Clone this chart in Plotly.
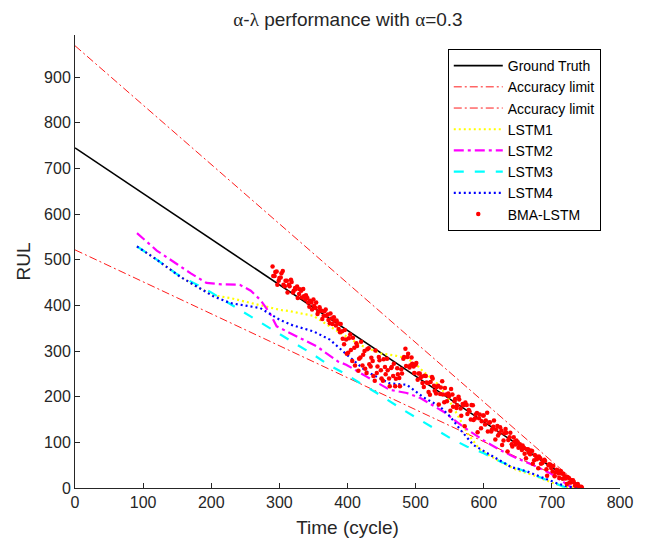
import plotly.graph_objects as go

# ---------------- data ----------------
time_gt = [0, 745]
rul_gt = [745, 0]
rul_upper = [968.5, 0]   # (1+alpha)*RUL
rul_lower = [521.5, 0]   # (1-alpha)*RUL

lstm1_t = [91, 120, 154, 180, 203, 228, 250, 277, 301, 316, 350, 374, 399, 420, 448, 470, 487, 500, 511, 524, 536, 548, 560, 576, 595, 620, 649, 673, 698, 717, 745]
lstm1_v = [529, 500, 463, 440, 422, 416, 408, 398, 390, 387, 377, 354, 332, 312, 295, 290, 284, 272, 255, 240, 222, 195, 164, 120, 83, 61, 39, 28, 13, 3, 0]

lstm2_t = [91, 120, 150, 170, 193, 215, 242, 258, 272, 286, 296, 326, 355, 386, 398, 428, 462, 487, 507, 541, 570, 600, 624, 649, 673, 698, 712, 727, 745]
lstm2_v = [558, 520, 490, 470, 449, 446, 445, 432, 412, 383, 354, 332, 310, 277, 270, 244, 215, 208, 197, 167, 134, 104, 83, 65, 50, 32, 18, 3, 0]

lstm3_t = [91, 120, 150, 175, 198, 220, 242, 267, 286, 311, 330, 350, 374, 399, 418, 443, 482, 507, 531, 551, 575, 600, 624, 649, 673, 698, 717, 745]
lstm3_v = [529, 500, 468, 448, 430, 410, 390, 368, 350, 328, 310, 292, 268, 248, 230, 208, 171, 149, 127, 109, 91, 76, 58, 43, 29, 14, 3, 0]

lstm4_t = [91, 120, 154, 180, 203, 228, 250, 272, 301, 320, 350, 374, 399, 428, 462, 487, 511, 536, 551, 566, 585, 615, 640, 664, 689, 708, 723, 745]
lstm4_v = [529, 500, 463, 440, 420, 405, 400, 394, 368, 356, 343, 325, 292, 255, 229, 226, 199, 178, 156, 127, 94, 68, 46, 36, 21, 10, 3, 0]

bma_t_a = list(range(290, 746, 3))
bma_v_a = [485, 464, 474, 454, 461, 475, 442, 454, 445, 456, 428, 438, 441, 425, 432, 436, 413,
           416, 397, 406, 413, 394, 381, 396, 388, 377, 391, 380, 361, 371, 374, 356, 361, 341,
           343, 315, 325, 296, 336, 278, 307, 317, 257, 286, 268, 300, 252, 306, 266, 278, 235, 252, 287, 258,
           235, 265, 283, 240, 263, 245, 223, 262, 241, 260,
           283, 305, 287, 264, 286, 266, 270, 237, 251,
           244, 221, 245, 230, 204, 243, 224, 207, 224, 206, 234, 188, 205, 207, 169, 205, 190, 175, 200, 174,
           184, 135, 182, 171, 150, 181, 152, 164, 153, 131, 159, 139, 165, 143, 124, 134, 106, 136, 120, 126,
           104, 129, 80, 111, 96, 111, 95, 100,
           96, 83, 88, 65, 85, 74, 81, 61, 69, 43, 65, 55, 62, 41, 50, 51, 36, 26, 40, 32,
           37, 20, 26, 9, 22, 12, 17, 5, 8, 3, 3]

bma_t_b = list(range(291, 746, 3))
bma_v_b = [464, 473, 445, 460, 470, 445, 454, 428, 442, 451, 432, 435, 416, 435, 417, 420, 422,
           406, 410, 391, 399, 406, 386, 389, 370, 387, 377, 368, 382, 359, 366, 367, 348, 359,
           327, 346, 294, 328, 302, 329, 268, 311, 283, 320, 292, 261, 304, 271, 285, 245, 301, 266, 280, 240,
           282, 249, 258, 223, 265, 272, 239, 249, 223, 251,
           287, 267, 294, 268, 272, 252, 274, 251, 241,
           230, 246, 231, 210, 232, 240, 213, 221, 183, 220, 205, 219, 190, 201, 217, 178, 195, 181, 194, 158,
           181, 187, 162, 168, 182, 149, 161, 122, 161, 146, 159, 148, 124, 144, 128, 148, 128, 115, 133, 94,
           120, 121, 105, 121, 91, 102, 104, 88,
           89, 93, 75, 85, 78, 82, 53, 72, 63, 69, 53, 59, 59, 27, 52, 44, 48, 34, 39, 22,
           32, 31, 21, 24, 12, 17, 13, 7, 9, 3, 1]

bma_t = bma_t_a + bma_t_b
bma_v = bma_v_a + bma_v_b

x_ticks = [0, 100, 200, 300, 400, 500, 600, 700, 800]
y_ticks = [0, 100, 200, 300, 400, 500, 600, 700, 800, 900]

# ---------------- figure ----------------
FONT = "Liberation Sans, Arial, Helvetica, sans-serif"
SERIF = "Liberation Serif, Times New Roman, serif"
TXT = "#262626"

fig = go.Figure()
fig.add_trace(go.Scatter(x=time_gt, y=rul_gt, mode="lines", name="Ground Truth",
                         line=dict(color="black", width=1.6)))
fig.add_trace(go.Scatter(x=time_gt, y=rul_upper, mode="lines", name="Accuracy limit",
                         line=dict(color="red", width=0.9, dash="8px,3px,2px,3px")))
fig.add_trace(go.Scatter(x=time_gt, y=rul_lower, mode="lines", name="Accuracy limit",
                         line=dict(color="red", width=0.9, dash="8px,3px,2px,3px")))
fig.add_trace(go.Scatter(x=lstm1_t, y=lstm1_v, mode="lines", name="LSTM1",
                         line=dict(color="#FFFF00", width=2.2, dash="2px,3px")))
fig.add_trace(go.Scatter(x=lstm2_t, y=lstm2_v, mode="lines", name="LSTM2",
                         line=dict(color="#FF00FF", width=2.2, dash="10px,4px,3px,4px")))
fig.add_trace(go.Scatter(x=lstm3_t, y=lstm3_v, mode="lines", name="LSTM3",
                         line=dict(color="#00FFFF", width=2.2, dash="10px,11px")))
fig.add_trace(go.Scatter(x=lstm4_t, y=lstm4_v, mode="lines", name="LSTM4",
                         line=dict(color="#0000FF", width=2.2, dash="2px,3px")))
fig.add_trace(go.Scatter(x=bma_t, y=bma_v, mode="markers", name="BMA-LSTM",
                         marker=dict(color="red", size=4.5, line=dict(width=0))))

title_txt = (f"<span style='font-family:{SERIF}'>α</span>-<span style='font-family:{SERIF}'>λ</span>"
             f" performance with <span style='font-family:{SERIF}'>α</span>=0.3")

fig.update_layout(
    width=648, height=542,
    margin=dict(l=75, r=28, t=35, b=54, autoexpand=False),
    paper_bgcolor="white", plot_bgcolor="white",
    font=dict(family=FONT, color=TXT, size=15),
    title=dict(text=title_txt, x=348 / 648, xanchor="center", y=1 - 19 / 542, yanchor="middle",
               font=dict(size=19, color=TXT)),
    showlegend=True,
    legend=dict(x=0.684, y=0.969, xanchor="left", yanchor="top",
                bgcolor="white", bordercolor="black", borderwidth=1,
                font=dict(size=14, color="black"), itemwidth=49),
    xaxis=dict(range=[0, 800], tickvals=x_ticks, ticks="inside", ticklen=5, tickcolor="#262626",
               showline=True, linecolor="#262626", linewidth=1, showgrid=False, zeroline=False,
               mirror=False, automargin=False,
               title=dict(text="Time (cycle)", font=dict(size=19, color=TXT), standoff=10),
               tickfont=dict(size=16, color=TXT)),
    yaxis=dict(range=[0, 992], tickvals=y_ticks, ticks="inside", ticklen=5, tickcolor="#262626",
               showline=True, linecolor="#262626", linewidth=1, showgrid=False, zeroline=False,
               mirror=False, automargin=False,
               title=dict(text="RUL", font=dict(size=19, color=TXT), standoff=8),
               tickfont=dict(size=16, color=TXT)),
)

fig.write_html("out.html")
